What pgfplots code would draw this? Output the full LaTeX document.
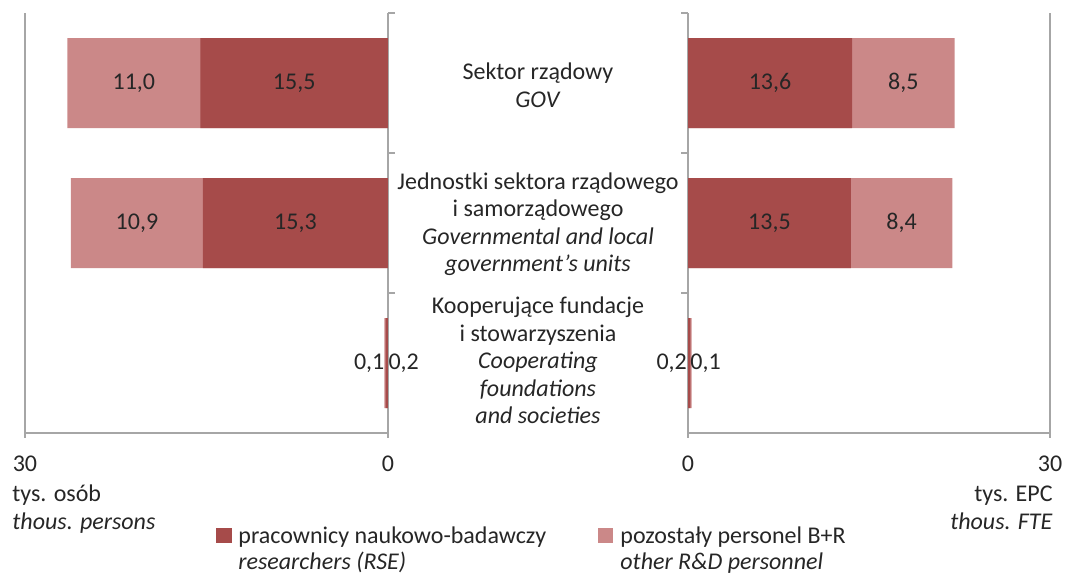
\documentclass[border=0pt]{standalone}
\usepackage{pgfplots}
\pgfplotsset{compat=1.18}
\usepackage{pgfplotstable}
\usepackage{fontspec}
\setmainfont{Carlito}
\definecolor{rse}{HTML}{A64B4A}
\definecolor{oth}{HTML}{CB8888}
\definecolor{axgray}{HTML}{A6A6A6}
\definecolor{txt}{HTML}{262626}

% thous. persons
\pgfplotstableread{
y rse oth
0 15.5 11.0
1 15.3 10.9
2 0.2 0.1
}\persons
% thous. FTE
\pgfplotstableread{
y rse oth
0 13.6 8.5
1 13.5 8.4
2 0.2 0.1
}\fte
% label positions (segment middles)
\pgfplotstableread{
y x lab
0 7.75 15,5
0 21.0 11,0
1 7.65 15,3
1 20.75 10,9
2 -1.3 0,2
2 1.55 0,1
}\personslab
\pgfplotstableread{
y x lab
0 6.8 13,6
0 17.85 8,5
1 6.75 13,5
1 17.7 8,4
2 -1.35 0,2
2 1.45 0,1
}\ftelab

\pgfplotsset{
  panel/.style={
    scale only axis, width=181.5pt, height=210pt,
    xmin=0, xmax=30, ymin=-0.5, ymax=2.5, y dir=reverse,
    axis x line*=bottom, axis y line*=box,
    axis line style={draw=axgray, line width=0.6pt},
    xtick={0,30}, ytick=\empty,
    tick style={draw=axgray, line width=0.6pt},
    tick align=center, major tick length=4.5pt,
    xticklabel style={font=\fontsize{12}{14}\selectfont, text=txt, yshift=-5pt},
    /pgf/number format/assume math mode=true,
    xbar, bar width=45pt, bar shift=0pt,
    clip=false,
    nodes near coords style={font=\fontsize{12}{14}\selectfont, text=txt, anchor=center},
  },
}

\begin{document}
\begin{tikzpicture}[x=1pt,y=1pt]
\path[use as bounding box] (0,0) rectangle (533.5,286.5);
\fontsize{12}{13.75}\selectfont

% left panel: persons
\begin{axis}[panel, at={(12.5pt,70pt)}, anchor=south west, x dir=reverse]
  \addplot[fill=oth, draw=none] table[y=y, x expr=\thisrow{rse}+\thisrow{oth}] {\persons};
  \addplot[fill=rse, draw=none] table[y=y, x=rse] {\persons};
  \addplot[draw=none, mark=none, nodes near coords, point meta=explicit symbolic]
    table[x=x, y=y, meta=lab] {\personslab};
  \pgfplotsinvokeforeach{-0.5,0.5,1.5}{
    \draw[axgray, line width=0.6pt] (axis cs:0,#1) -- ++(3.5pt,0pt);
  }
\end{axis}

% right panel: FTE
\begin{axis}[panel, at={(344pt,70pt)}, anchor=south west, width=181pt]
  \addplot[fill=oth, draw=none] table[y=y, x expr=\thisrow{rse}+\thisrow{oth}] {\fte};
  \addplot[fill=rse, draw=none] table[y=y, x=rse] {\fte};
  \addplot[draw=none, mark=none, nodes near coords, point meta=explicit symbolic]
    table[x=x, y=y, meta=lab] {\ftelab};
  \pgfplotsinvokeforeach{-0.5,0.5,1.5}{
    \draw[axgray, line width=0.6pt] (axis cs:0,#1) -- ++(-3.5pt,0pt);
  }
\end{axis}

% category labels
\begin{scope}[every node/.style={text=txt, align=center, font=\fontsize{12}{13.75}\selectfont}]
\node at (269,243.75) {Sektor rządowy\\\textit{GOV}};
\node at (269,174.5) {Jednostki sektora rządowego\\i samorządowego\\\textit{Governmental and local}\\\textit{government’s units}};
\node at (269,106.25) {Kooperujące fundacje\\i stowarzyszenia\\\textit{Cooperating}\\\textit{foundations}\\\textit{and societies}};
\end{scope}

% axis titles
\node[anchor=base west, align=left, text=txt, inner sep=0pt, font=\fontsize{12}{14}\selectfont] at (6,21.5) {tys. osób\\\textit{thous. persons}};
\node[anchor=base east, align=right, text=txt, inner sep=0pt, font=\fontsize{12}{14}\selectfont] at (526.5,21.5) {tys. EPC\\\textit{thous. FTE}};

% legend
\fill[rse] (108,15) rectangle (116,22.5);
\node[anchor=base west, align=left, text=txt, inner sep=0pt, font=\fontsize{12}{13}\selectfont] at (119,1.5) {pracownicy naukowo-badawczy\\\textit{researchers (RSE)}};
\fill[oth] (299,15) rectangle (306.5,22.5);
\node[anchor=base west, align=left, text=txt, inner sep=0pt, font=\fontsize{12}{13}\selectfont] at (310,1.5) {pozostały personel B+R\\\textit{other R\&D personnel}};
\end{tikzpicture}
\end{document}
